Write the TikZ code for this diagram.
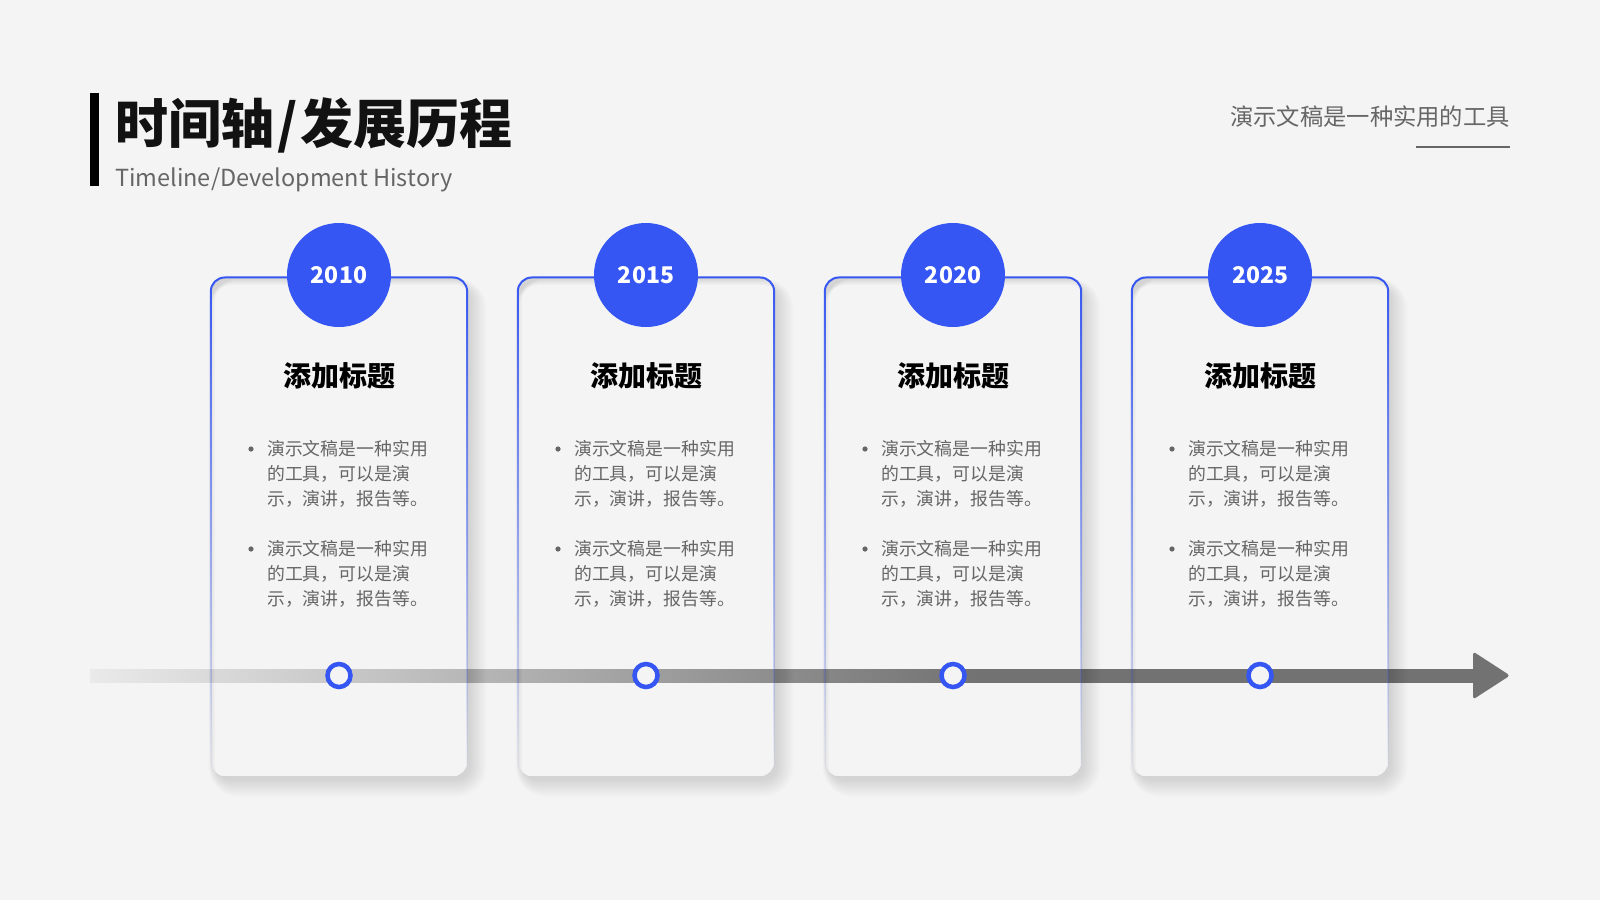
\documentclass[tikz,border=0pt]{standalone}
\usepackage{fontspec}
\setmainfont{Noto Sans CJK SC}
\newfontfamily\cjk{Noto Sans CJK SC}
\usepackage{tikz}
\usetikzlibrary{positioning}
\usetikzlibrary{calc}
\usetikzlibrary{fadings}
\definecolor{bgcol}{HTML}{F4F4F4}
\definecolor{mainblue}{HTML}{3556F2}
\definecolor{textgray}{HTML}{666666}
\definecolor{linegray}{HTML}{727272}
\pgfdeclarehorizontalshading{tlshade}{100bp}{color(0bp)=(linegray!15); color(25bp)=(linegray!15); color(57bp)=(linegray); color(100bp)=(linegray)}
\tikzfading[name=cardfade, top color=transparent!0, middle color=transparent!45, bottom color=transparent!100]
\tikzset{cardbox/.style={rectangle, rounded corners=14pt, minimum width=256pt, minimum height=499pt, inner sep=0pt}}
\tikzset{yearball/.style={circle, fill=mainblue, minimum size=104pt, inner sep=0pt, text=white, font=\cjk\bfseries\fontsize{23}{23}\selectfont}}
\tikzset{tldot/.style={circle, draw=mainblue, line width=4.5pt, fill=bgcol, minimum size=23pt, inner sep=0pt}}

\begin{document}
\begin{tikzpicture}[x=1pt, y=-1pt]
\tikzstyle{headtext} = [inner sep=0pt, text=black, font=\cjk\bfseries\fontsize{28}{28}\selectfont]
\tikzstyle{bodytext} = [anchor=north west, align=left, inner sep=0pt, text=textgray, font=\cjk\fontsize{17.85}{25}\selectfont]

\fill[bgcol] (0,0) rectangle (1600,900);
\useasboundingbox (0,0) rectangle (1600,900);

% header
\fill[black] (90,93) rectangle (99,186);
\node[anchor=west, inner sep=0pt, font=\cjk\bfseries\fontsize{53}{53}\selectfont, text=black!93] (TITLE) at (115,125) {时间轴\hspace{3pt}/\hspace{3pt}发展历程};
\node[anchor=base west, inner sep=0pt, font=\cjk\fontsize{23.5}{23.5}\selectfont, text=textgray] (SUBTITLE) at (115,186) {Timeline/Development History};
\node[anchor=east, inner sep=0pt, font=\cjk\fontsize{23.3}{23.3}\selectfont, text=textgray] (SLOGAN) at (1510,117) {演示文稿是一种实用的工具};
\coordinate (ULINE) at (1510,147);
\draw[textgray, line width=2pt] (ULINE) -- ++(-94,0);

% timeline
\coordinate (TLSTART) at (90,675.5);
\coordinate (TLEND) at (1510,675.5);
\shade[shading=tlshade] ([yshift=6.5pt]TLSTART) rectangle ([yshift=-6.5pt,xshift=-30pt]TLEND);
\fill[linegray, rounded corners=3pt] ([xshift=-37pt,yshift=24pt]TLEND) -- (TLEND) -- ([xshift=-37pt,yshift=-24pt]TLEND) -- cycle;

% cards
\foreach \yr [count=\i from 0, evaluate=\i as \x using 339+307*\i] in {2010,2015,2020,2025}
{
   \node[cardbox] (CARD\i) at (\x,526.5) {};
   \foreach \s in {1,...,16}
      \fill[black, opacity=0.0095, even odd rule, rounded corners=14pt+\s pt]
         ($(CARD\i.north west)+(5-\s*0.45,9-\s*0.45)$) rectangle ($(CARD\i.south east)+(2+\s*1.1,3+\s*1.1)$)
         [rounded corners=14pt] (CARD\i.north west) rectangle (CARD\i.south east);
   \draw[mainblue, line width=2pt, rounded corners=14pt, path fading=cardfade] (CARD\i.north west) rectangle (CARD\i.south east);
   \node[yearball] (YEAR\i) at (\x,275) {\yr};
   \node[headtext] (HEAD\i) at (\x,376) {添加标题};
   \node[bodytext] (TXTA\i) at (\x-72,440) {演示文稿是一种实用\\的工具，可以是演\\示，演讲，报告等。};
   \node[bodytext] (TXTB\i) at (\x-72,540) {演示文稿是一种实用\\的工具，可以是演\\示，演讲，报告等。};
   \fill[textgray] ($(TXTA\i.north west)+(-16,9)$) circle (2.6);
   \fill[textgray] ($(TXTB\i.north west)+(-16,9)$) circle (2.6);
   \node[tldot] (DOT\i) at (YEAR\i |- TLSTART) {};
}
\end{tikzpicture}
\end{document}
